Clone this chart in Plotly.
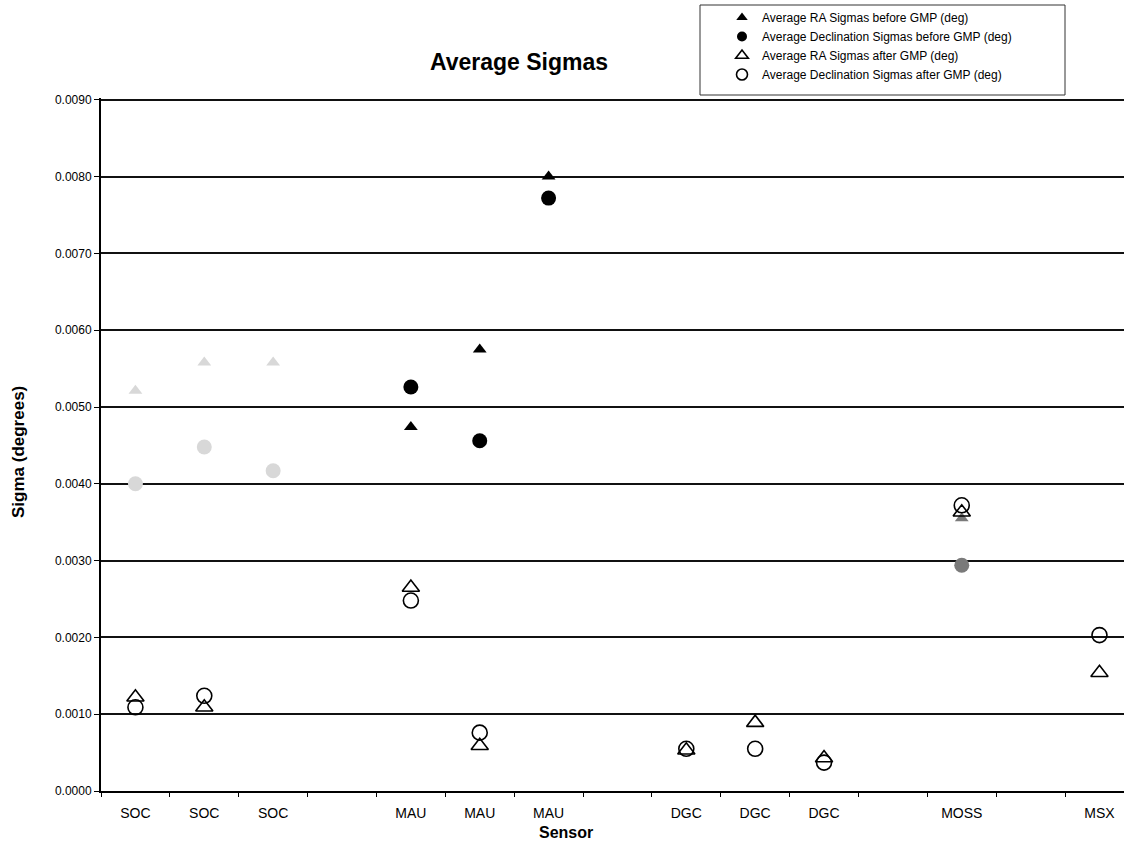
import plotly.graph_objects as go

# Sensor slots along the x axis (blank slots separate the sensor groups)
sensors = ["SOC", "SOC", "SOC", "", "MAU", "MAU", "MAU", "",
           "DGC", "DGC", "DGC", "", "MOSS", "", "MSX"]

# Average sigmas in degrees (None = no value for that sensor run)
ra_before = [0.00521, 0.00558, 0.00558, None, 0.00474, 0.00575, 0.00800, None,
             None, None, None, None, 0.00355, None, None]
dec_before = [0.00400, 0.00448, 0.00417, None, 0.00526, 0.00456, 0.00772, None,
              None, None, None, None, 0.00294, None, None]
ra_after = [0.00122, 0.00109, None, None, 0.00265, 0.00059, None, None,
            0.00053, 0.00089, 0.00043, None, 0.00363, None, 0.00154]
dec_after = [0.00109, 0.00124, None, None, 0.00248, 0.00076, None, None,
             0.00055, 0.00055, 0.00037, None, 0.00372, None, 0.00203]

y_ticks = [i / 10000 for i in range(0, 91, 10)]

FONT = "Liberation Sans, Arial, Helvetica, sans-serif"
x_pos = list(range(len(sensors)))


def shade(label):
    # SOC markers print very light, MOSS markers print as a grey hatch
    if label == "SOC":
        return "#d8d8d8"
    if label == "MOSS":
        return "#7a7a7a"
    return "black"


fill_colors = [shade(s) for s in sensors]

series = [
    ("Average RA Sigmas before GMP (deg)", ra_before,
     dict(symbol="triangle-up", size=12, line=dict(width=0)), True),
    ("Average Declination Sigmas before GMP (deg)", dec_before,
     dict(symbol="circle", size=15, line=dict(width=0)), True),
    ("Average RA Sigmas after GMP (deg)", ra_after,
     dict(symbol="triangle-up-open", size=15, line=dict(width=1.6, color="black")), False),
    ("Average Declination Sigmas after GMP (deg)", dec_after,
     dict(symbol="circle-open", size=15, line=dict(width=1.6, color="black")), False),
]

fig = go.Figure()
for i, (name, values, marker, filled) in enumerate(series):
    point_marker = dict(marker, color=fill_colors if filled else "black")
    fig.add_trace(go.Scatter(
        x=x_pos, y=values, mode="markers", name=name,
        legendgroup=f"s{i}", showlegend=False, marker=point_marker,
    ))
    # legend entry drawn with the plain black symbol
    fig.add_trace(go.Scatter(
        x=[None], y=[None], mode="markers", name=name,
        legendgroup=f"s{i}", showlegend=True,
        marker=dict(marker, color="black", size=10 if filled else 11),
    ))

L, T, B = 101, 98, 50
W, H = 1124, 841
pw, ph = W - L, H - T - B
px_per_unit = 76.8 / 0.001
y_top = (H - B - T) / px_per_unit


def px_x(p):
    return (p - L) / pw


def px_y(p):
    return (H - B - p) / ph


fig.update_layout(
    width=W, height=H,
    margin=dict(l=L, r=0, t=T, b=B, pad=0, autoexpand=False),
    paper_bgcolor="white", plot_bgcolor="white",
    font=dict(family=FONT, color="black"),
    title=dict(text="<b>Average Sigmas</b>", font=dict(size=23, family=FONT),
               xref="container", yref="container",
               x=519 / W, xanchor="center", y=1 - 62 / H, yanchor="middle"),
    showlegend=True,
    legend=dict(x=px_x(722), xanchor="left", y=px_y(3), yanchor="top",
                bgcolor="rgba(0,0,0,0)", borderwidth=0,
                font=dict(size=12, family=FONT), itemsizing="trace",
                tracegroupgap=0),
    xaxis=dict(
        range=[-0.5, -0.5 + pw / 68.86],
        tickmode="array", tickvals=x_pos, ticktext=sensors,
        ticks="", tickfont=dict(size=14, family=FONT),
        ticklabelstandoff=8,
        showgrid=False, zeroline=False,
        showline=True, linecolor="black", linewidth=2,
        minor=dict(tickmode="array",
                   tickvals=[v - 0.5 for v in range(len(sensors) + 1)],
                   ticks="outside", ticklen=4, tickcolor="black", tickwidth=1,
                   showgrid=False),
    ),
    yaxis=dict(
        range=[0, y_top],
        tickmode="array", tickvals=y_ticks, tickformat=".4f",
        ticks="outside", ticklen=5, tickcolor="black", tickwidth=1,
        tickfont=dict(size=12, family=FONT),
        showgrid=True, gridcolor="#111111", gridwidth=1.8,
        zeroline=False,
        showline=True, linecolor="black", linewidth=2,
    ),
    shapes=[dict(type="rect", xref="paper", yref="paper",
                 x0=px_x(700), x1=px_x(1065), y0=px_y(95), y1=px_y(5),
                 line=dict(color="#333333", width=1), fillcolor="rgba(0,0,0,0)")],
    annotations=[
        dict(text="<b>Sigma (degrees)</b>", xref="paper", yref="paper",
             x=px_x(18), y=px_y(452), textangle=-90, showarrow=False,
             xanchor="center", yanchor="middle", font=dict(size=17, family=FONT)),
        dict(text="<b>Sensor</b>", xref="paper", yref="paper",
             x=px_x(566), y=px_y(832), showarrow=False,
             xanchor="center", yanchor="middle", font=dict(size=16, family=FONT)),
    ],
)

fig.write_html("out.html")
